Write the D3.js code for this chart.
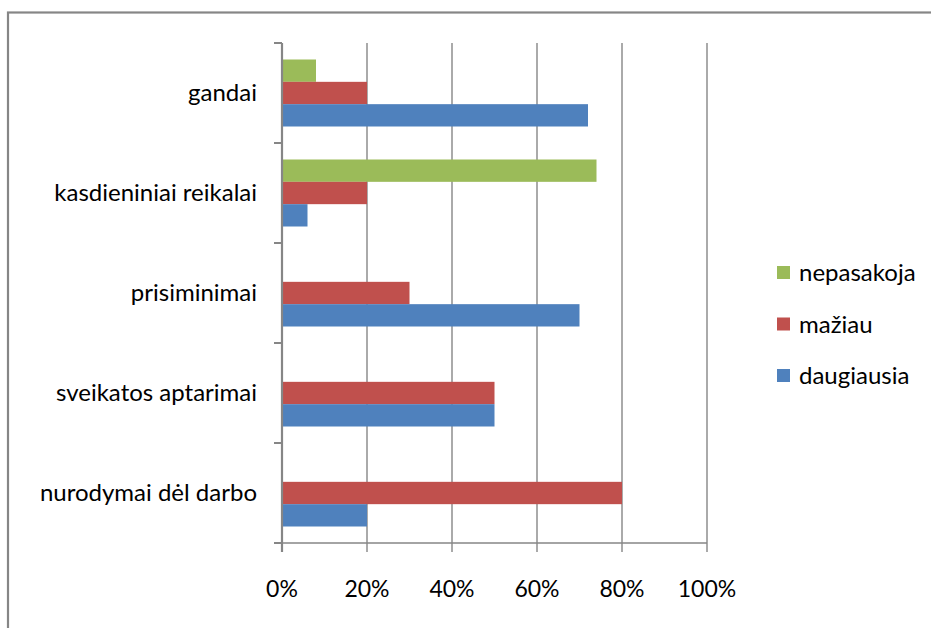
<!DOCTYPE html>
<html>
<head>
<meta charset="utf-8">
<script src="https://cdn.jsdelivr.net/npm/d3@7"></script>
<style>
  html, body { margin: 0; padding: 0; background: #fff; }
  svg { display: block; }
  text { font-family: Lato, "Open Sans", sans-serif; fill: #000; }
</style>
</head>
<body>
<svg id="chart" width="931" height="628"></svg>
<script>
// Categories, listed top to bottom
const categories = ["gandai", "kasdieniniai reikalai", "prisiminimai", "sveikatos aptarimai", "nurodymai dėl darbo"];
// Series, stacked inside each group top to bottom
const seriesNames = ["nepasakoja", "mažiau", "daugiausia"];
const seriesColors = ["#9BBB59", "#C0504D", "#4F81BD"];
// Shares (%) per category, in category order
const nepasakoja = [8, 74, 0, 0, 0];
const maziau = [20, 20, 30, 50, 80];
const daugiausia = [72, 6, 70, 50, 20];
const tickValues = [0, 20, 40, 60, 80, 100];

const values = [nepasakoja, maziau, daugiausia];
const rows = categories.map((c, i) => ({
  cat: c,
  vals: seriesNames.map((s, j) => ({ series: s, color: seriesColors[j], value: values[j][i] }))
}));

const svg = d3.select("#chart");
const grid = "#868686";

// Outer frame (runs past the right and bottom edges)
svg.append("rect")
  .attr("x", 8).attr("y", 12.5)
  .attr("width", 940).attr("height", 640)
  .attr("fill", "none").attr("stroke", grid).attr("stroke-width", 2.2);

const x = d3.scaleLinear().domain([0, 100]).range([282, 707]);
const y = d3.scaleBand().domain(categories).range([43, 543]).paddingInner(0.33).paddingOuter(0.165);
const ySub = d3.scaleBand().domain(seriesNames).range([0, y.bandwidth()]);

// Vertical gridlines with short ticks below the plot
svg.append("g").selectAll("line").data(tickValues).join("line")
  .attr("x1", d => x(d)).attr("x2", d => x(d))
  .attr("y1", 43).attr("y2", 552)
  .attr("stroke", grid).attr("stroke-width", 1.4);

// Bottom axis line
svg.append("line").attr("x1", 274).attr("x2", x(100)).attr("y1", 543).attr("y2", 543)
  .attr("stroke", grid).attr("stroke-width", 1.4);

// X tick labels
svg.append("g").selectAll("text").data(tickValues).join("text")
  .attr("x", d => x(d)).attr("y", 597)
  .attr("text-anchor", "middle")
  .style("font-size", "23px")
  .text(d => d + "%");

// Bars
const groups = svg.append("g").selectAll("g").data(rows).join("g")
  .attr("transform", d => `translate(0,${y(d.cat)})`);
groups.selectAll("rect").data(d => d.vals).join("rect")
  .attr("x", x(0))
  .attr("y", d => ySub(d.series))
  .attr("width", d => x(d.value) - x(0))
  .attr("height", ySub.bandwidth())
  .attr("fill", d => d.color);

// Category axis with outward ticks at band boundaries
const bounds = d3.range(categories.length + 1).map(i => 43 + i * 100);
svg.append("g").selectAll("line").data(bounds).join("line")
  .attr("x1", 274).attr("x2", 282).attr("y1", d => d).attr("y2", d => d)
  .attr("stroke", grid).attr("stroke-width", 2);
svg.append("line").attr("x1", 282).attr("x2", 282).attr("y1", 43).attr("y2", 552)
  .attr("stroke", grid).attr("stroke-width", 2.2);

// Category labels
svg.append("g").selectAll("text").data(categories).join("text")
  .attr("x", 257)
  .attr("y", d => y(d) + y.bandwidth() / 2 + 8)
  .attr("text-anchor", "end")
  .style("font-size", "24px")
  .text(d => d);

// Legend
const legend = svg.append("g").selectAll("g").data(seriesNames).join("g")
  .attr("transform", (d, i) => `translate(777,${273 + i * 51.5})`);
legend.append("rect").attr("x", 0).attr("y", -7).attr("width", 13).attr("height", 13)
  .attr("fill", (d, i) => seriesColors[i]);
legend.append("text").attr("x", 22).attr("y", 8)
  .style("font-size", "24px")
  .text(d => d);
</script>
</body>
</html>
